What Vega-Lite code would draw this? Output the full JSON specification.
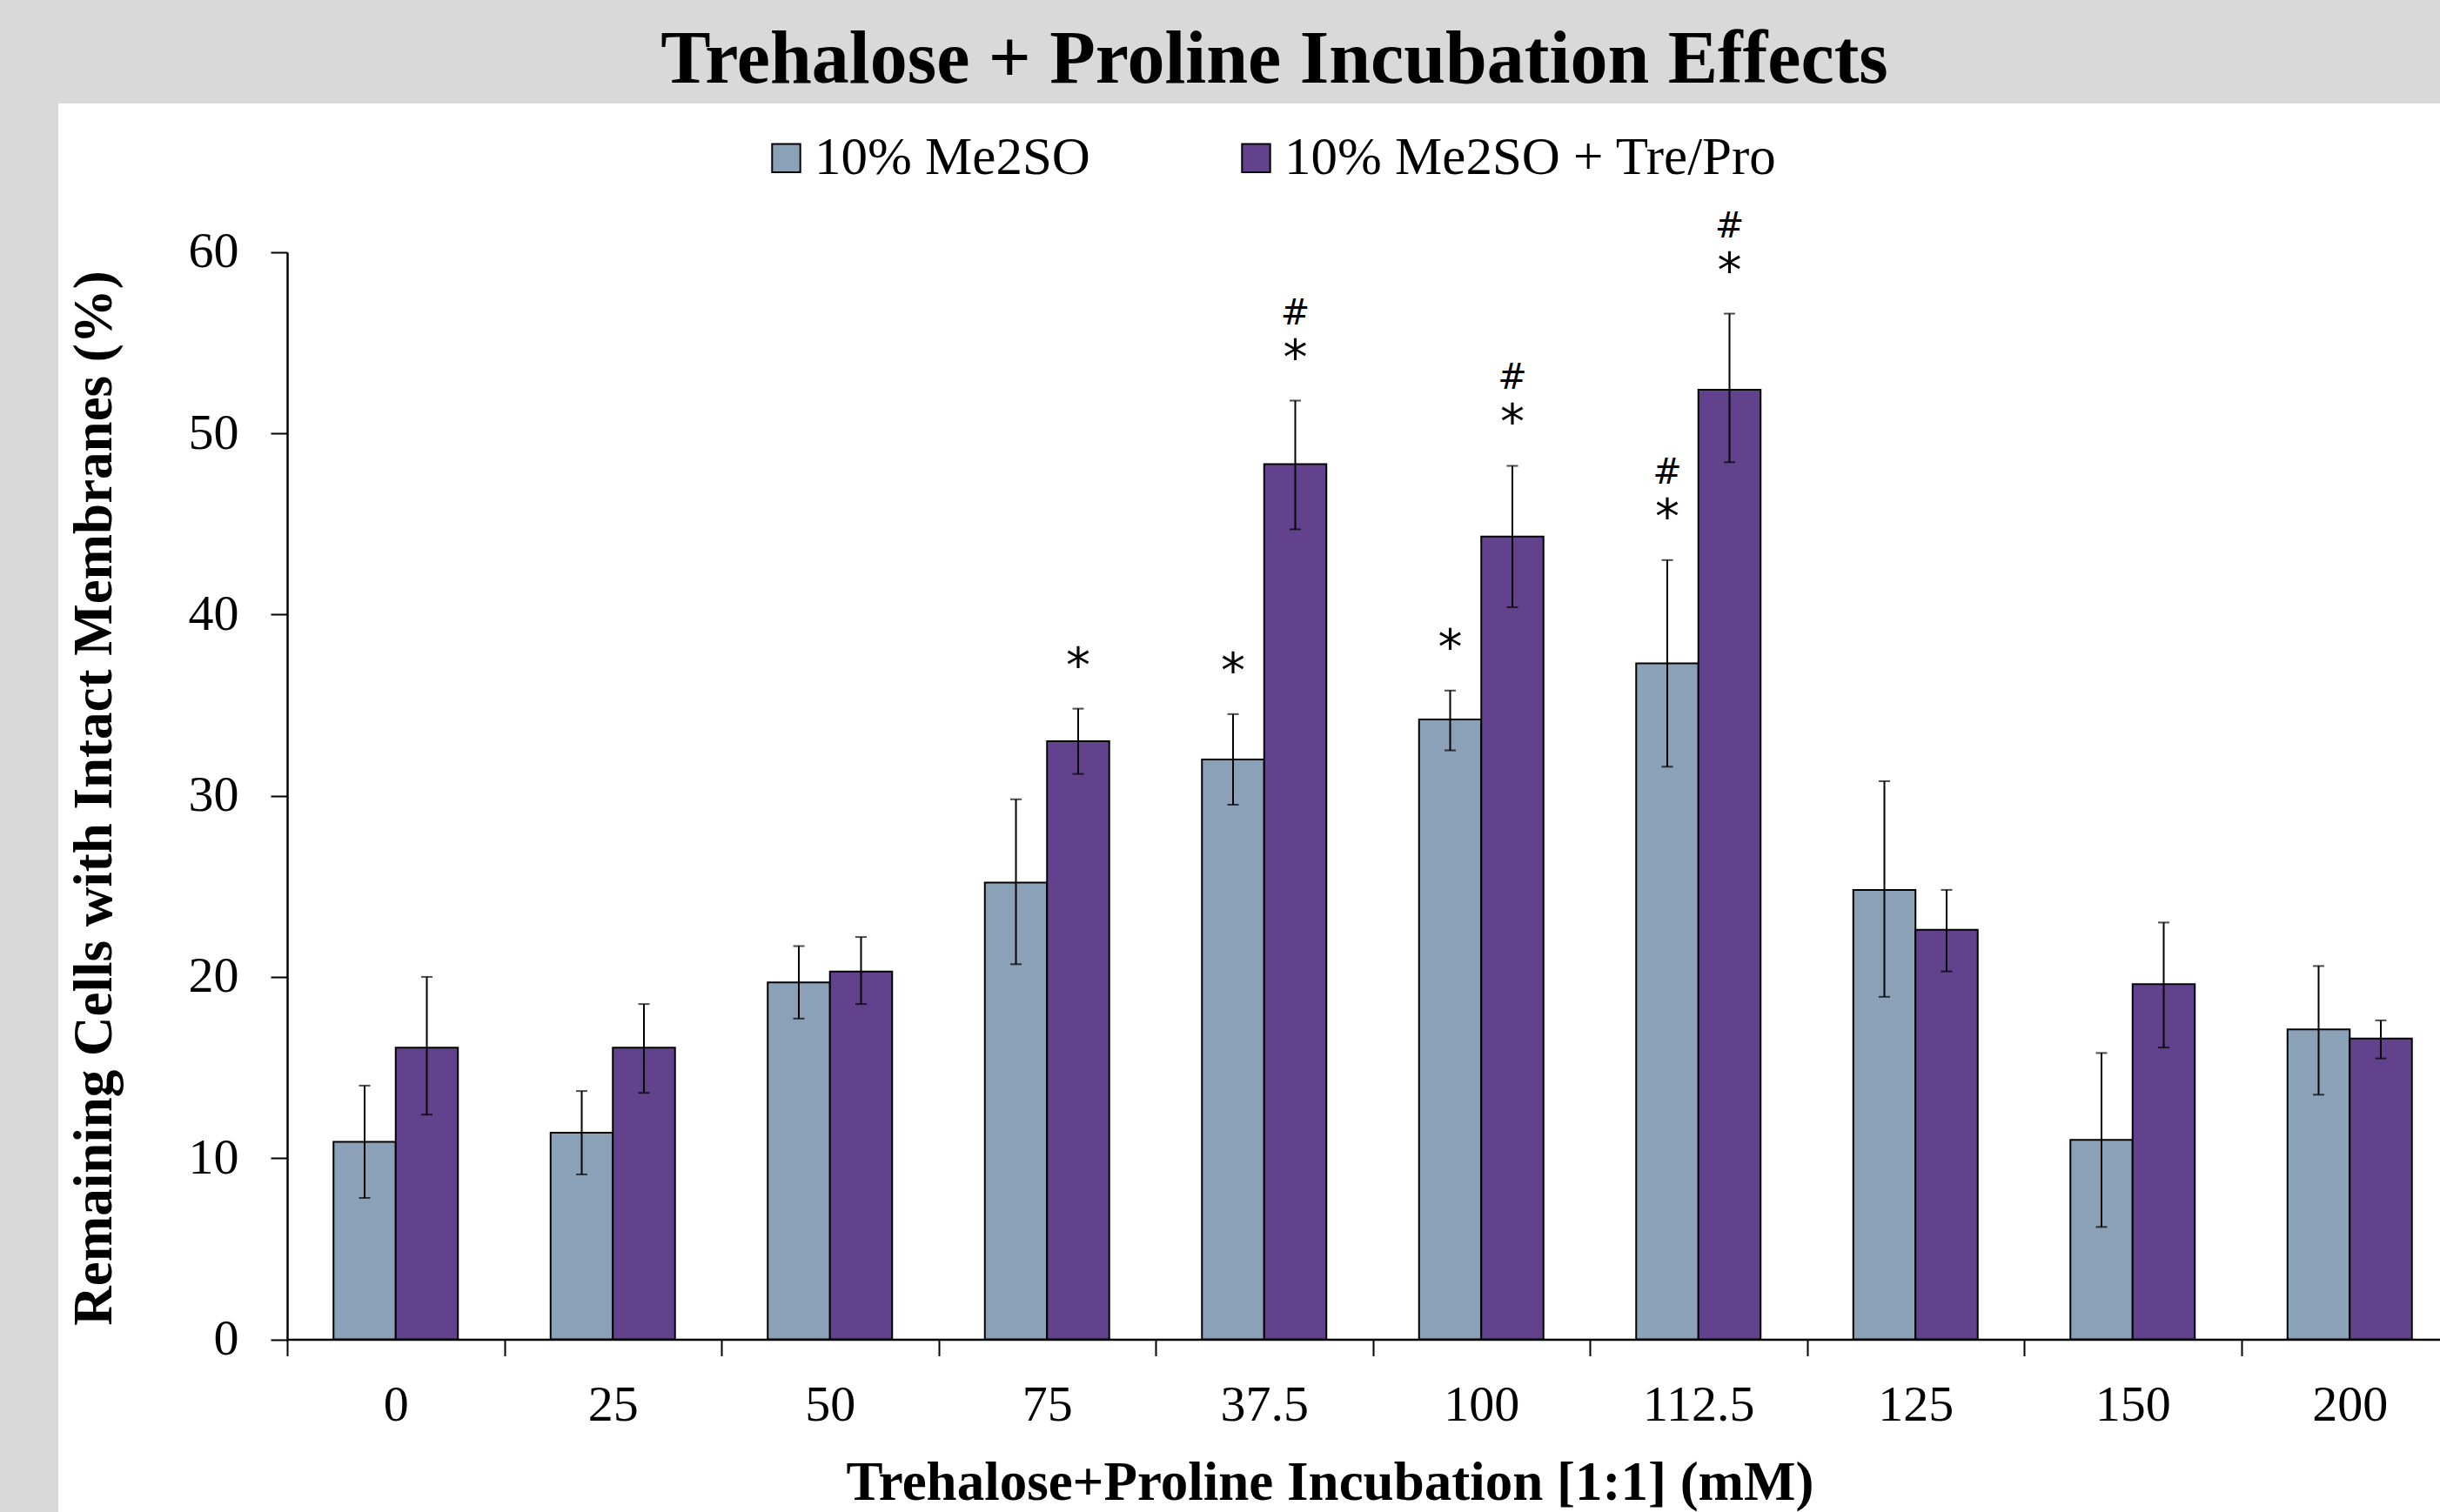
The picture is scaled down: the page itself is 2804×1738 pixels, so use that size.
{
  "$schema": "https://vega.github.io/schema/vega-lite/v6.json",
  "autosize": {"type": "none"},
  "width": 2737,
  "height": 1619,
  "padding": {"left": 67, "top": 119, "right": 0, "bottom": 0},
  "background": "#d9d9d9",
  "config": {
    "view": {"fill": "white", "stroke": null},
    "font": "Liberation Serif"
  },
  "title": {
    "text": "Trehalose + Proline Incubation Effects",
    "font": "Liberation Serif",
    "fontSize": 86,
    "fontWeight": "bold",
    "color": "black",
    "anchor": "middle",
    "frame": "group",
    "dx": 29,
    "baseline": "alphabetic",
    "offset": -62
  },
  "data": {
    "values": [
      {"conc": "0", "group": "10% Me2SO", "mean": 10.9, "lo": 7.8, "hi": 14.0, "star": "", "hash": ""},
      {"conc": "0", "group": "10% Me2SO + Tre/Pro", "mean": 16.1, "lo": 12.4, "hi": 20.0, "star": "", "hash": ""},
      {"conc": "25", "group": "10% Me2SO", "mean": 11.4, "lo": 9.1, "hi": 13.7, "star": "", "hash": ""},
      {"conc": "25", "group": "10% Me2SO + Tre/Pro", "mean": 16.1, "lo": 13.6, "hi": 18.5, "star": "", "hash": ""},
      {"conc": "50", "group": "10% Me2SO", "mean": 19.7, "lo": 17.7, "hi": 21.7, "star": "", "hash": ""},
      {"conc": "50", "group": "10% Me2SO + Tre/Pro", "mean": 20.3, "lo": 18.5, "hi": 22.2, "star": "", "hash": ""},
      {"conc": "75", "group": "10% Me2SO", "mean": 25.2, "lo": 20.7, "hi": 29.8, "star": "", "hash": ""},
      {"conc": "75", "group": "10% Me2SO + Tre/Pro", "mean": 33.0, "lo": 31.2, "hi": 34.8, "star": "*", "hash": ""},
      {"conc": "37.5", "group": "10% Me2SO", "mean": 32.0, "lo": 29.5, "hi": 34.5, "star": "*", "hash": ""},
      {"conc": "37.5", "group": "10% Me2SO + Tre/Pro", "mean": 48.3, "lo": 44.7, "hi": 51.8, "star": "*", "hash": "#"},
      {"conc": "100", "group": "10% Me2SO", "mean": 34.2, "lo": 32.5, "hi": 35.8, "star": "*", "hash": ""},
      {"conc": "100", "group": "10% Me2SO + Tre/Pro", "mean": 44.3, "lo": 40.4, "hi": 48.2, "star": "*", "hash": "#"},
      {"conc": "112.5", "group": "10% Me2SO", "mean": 37.3, "lo": 31.6, "hi": 43.0, "star": "*", "hash": "#"},
      {"conc": "112.5", "group": "10% Me2SO + Tre/Pro", "mean": 52.4, "lo": 48.4, "hi": 56.6, "star": "*", "hash": "#"},
      {"conc": "125", "group": "10% Me2SO", "mean": 24.8, "lo": 18.9, "hi": 30.8, "star": "", "hash": ""},
      {"conc": "125", "group": "10% Me2SO + Tre/Pro", "mean": 22.6, "lo": 20.3, "hi": 24.8, "star": "", "hash": ""},
      {"conc": "150", "group": "10% Me2SO", "mean": 11.0, "lo": 6.2, "hi": 15.8, "star": "", "hash": ""},
      {"conc": "150", "group": "10% Me2SO + Tre/Pro", "mean": 19.6, "lo": 16.1, "hi": 23.0, "star": "", "hash": ""},
      {"conc": "200", "group": "10% Me2SO", "mean": 17.1, "lo": 13.5, "hi": 20.6, "star": "", "hash": ""},
      {"conc": "200", "group": "10% Me2SO + Tre/Pro", "mean": 16.6, "lo": 15.5, "hi": 17.6, "star": "", "hash": ""}
    ]
  },
  "encoding": {
    "x": {
      "field": "conc",
      "type": "nominal",
      "sort": ["0", "25", "50", "75", "37.5", "100", "112.5", "125", "150", "200"],
      "scale": {"range": [263, 2758], "paddingInner": 0, "paddingOuter": 0},
      "axis": {
        "orient": "bottom",
        "offset": -198.5,
        "title": "Trehalose+Proline Incubation [1:1] (mM)",
        "titleFont": "Liberation Serif",
        "titleFontSize": 63,
        "titleFontWeight": "bold",
        "titleColor": "black",
        "titleX": 1461,
        "titleY": 183.5,
        "titleBaseline": "alphabetic",
        "titleAnchor": null,
        "labelAngle": 0,
        "labelFont": "Liberation Serif",
        "labelFontSize": 58,
        "labelColor": "black",
        "labelBaseline": "alphabetic",
        "labelPadding": 74,
        "tickBand": "extent",
        "tickSize": 19,
        "tickWidth": 2,
        "tickColor": "black",
        "domainColor": "black",
        "domainWidth": 2.5,
        "grid": false
      }
    },
    "xOffset": {
      "field": "group",
      "type": "nominal",
      "sort": ["10% Me2SO", "10% Me2SO + Tre/Pro"],
      "scale": {"paddingInner": 0, "paddingOuter": 0.745}
    }
  },
  "layer": [
    {
      "mark": {"type": "bar", "stroke": "black", "strokeWidth": 2},
      "encoding": {
        "y": {
          "field": "mean",
          "type": "quantitative",
          "scale": {"domain": [0, 60], "range": [1420.5, 170.7], "nice": false, "zero": true},
          "axis": {
            "orient": "left",
            "offset": -263,
            "values": [0, 10, 20, 30, 40, 50, 60],
            "title": "Remaining Cells with Intact Membranes (%)",
            "titleFont": "Liberation Serif",
            "titleFontSize": 63,
            "titleFontWeight": "bold",
            "titleColor": "black",
            "titleAngle": 270,
            "titleX": -203,
            "titleY": 798,
            "titleAlign": "center",
            "titleBaseline": "alphabetic",
            "titleAnchor": null,
            "labelFont": "Liberation Serif",
            "labelFontSize": 58,
            "labelColor": "black",
            "labelPadding": 37,
            "tickSize": 19,
            "tickWidth": 2,
            "tickColor": "black",
            "domainColor": "black",
            "domainWidth": 2.5,
            "grid": false
          }
        },
        "color": {
          "field": "group",
          "type": "nominal",
          "scale": {"domain": ["10% Me2SO", "10% Me2SO + Tre/Pro"], "range": ["#8BA1B8", "#62428C"]},
          "legend": {
            "title": null,
            "orient": "none",
            "legendX": 806,
            "legendY": 32,
            "direction": "horizontal",
            "padding": 0,
            "symbolType": "square",
            "symbolSize": 1050,
            "symbolStrokeColor": "black",
            "symbolStrokeWidth": 2,
            "symbolOpacity": 1,
            "labelFont": "Liberation Serif",
            "labelFontSize": 61,
            "labelColor": "black",
            "labelOffset": 2,
            "labelLimit": 2000,
            "columnPadding": 160
          }
        }
      }
    },
    {
      "mark": {"type": "rule", "color": "black", "strokeWidth": 2},
      "encoding": {
        "y": {"field": "lo", "type": "quantitative"},
        "y2": {"field": "hi"}
      }
    },
    {
      "mark": {"type": "tick", "color": "black", "thickness": 2, "size": 13},
      "encoding": {
        "y": {"field": "lo", "type": "quantitative"}
      }
    },
    {
      "mark": {"type": "tick", "color": "black", "thickness": 2, "size": 13},
      "encoding": {
        "y": {"field": "hi", "type": "quantitative"}
      }
    },
    {
      "transform": [{"filter": "datum.star != ''"}],
      "mark": {"type": "text", "font": "DejaVu Sans", "fontSize": 56, "color": "black", "baseline": "middle", "dy": -48},
      "encoding": {
        "y": {"field": "hi", "type": "quantitative"},
        "text": {"field": "star"}
      }
    },
    {
      "transform": [{"filter": "datum.hash != ''"}],
      "mark": {"type": "text", "font": "DejaVu Sans", "fontSize": 40, "color": "black", "baseline": "middle", "dy": -100},
      "encoding": {
        "y": {"field": "hi", "type": "quantitative"},
        "text": {"field": "hash"}
      }
    }
  ]
}
